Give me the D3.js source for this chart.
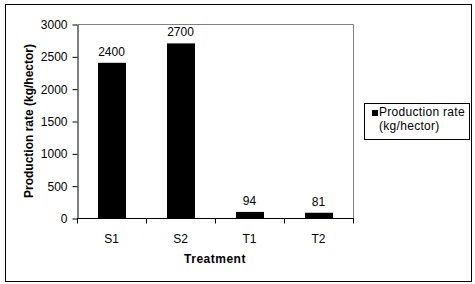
<!DOCTYPE html>
<html>
<head>
<meta charset="utf-8">
<script src="https://cdn.jsdelivr.net/npm/d3@7"></script>
<style>
  body { margin: 0; background: #fff; }
  text { font-family: Arial, "Liberation Sans", sans-serif; }
</style>
</head>
<body>
<svg id="chart"></svg>
<script>
// Chart data
var categories = ["S1", "S2", "T1", "T2"];
var values = [2400, 2700, 94, 81];
var yTicks = [0, 500, 1000, 1500, 2000, 2500, 3000];
var seriesName = ["Production rate", "(kg/hector)"];

var dimensions = {
    width: 475,
    height: 284,
    margin: { top: 24, bottom: 66, left: 77, right: 122 }
};

var svg = d3.select("#chart")
    .attr("width", dimensions.width)
    .attr("height", dimensions.height);

// Outer frame
svg.append("rect")
    .attr("x", 5.5).attr("y", 4.5)
    .attr("width", 466).attr("height", 277)
    .attr("fill", "#fff").attr("stroke", "#000");

var x0 = dimensions.margin.left, x1 = dimensions.width - dimensions.margin.right;
var y0 = dimensions.height - dimensions.margin.bottom, y1 = dimensions.margin.top;

var xScale = d3.scaleBand()
    .domain(categories)
    .range([x0, x1])
    .paddingInner(0.6)
    .paddingOuter(0.3);

var yScale = d3.scaleLinear()
    .domain([0, 3000])
    .range([y0, y1]);

// Plot area border (gray top and right)
svg.append("path")
    .attr("d", "M" + (x0 + 0.5) + "," + (y1 + 0.5) + "H" + (x1 + 0.5) + "V" + (y0 + 0.5))
    .attr("fill", "none")
    .attr("stroke", "#808080");

// Bars
svg.selectAll("rect.bar")
    .data(values)
    .enter()
    .append("rect")
    .attr("class", "bar")
    .attr("x", function(d, i) { return Math.round(xScale(categories[i])); })
    .attr("y", function(d) { return yScale(d); })
    .attr("width", Math.round(xScale.bandwidth()))
    .attr("height", function(d) { return y0 - yScale(d); })
    .attr("fill", "#000");

// Value labels
svg.selectAll("text.val")
    .data(values)
    .enter()
    .append("text")
    .attr("class", "val")
    .attr("x", function(d, i) { return xScale(categories[i]) + xScale.bandwidth() / 2; })
    .attr("y", function(d) { return yScale(d) - 7; })
    .attr("text-anchor", "middle")
    .style("font-size", "12px")
    .text(function(d) { return d; });

// Y axis
var yAxis = svg.append("g")
    .attr("transform", "translate(" + (x0 + 0.5) + ",0.5)")
    .call(d3.axisLeft(yScale).tickValues(yTicks).tickFormat(d3.format("d"))
        .tickSize(5).tickPadding(5).tickSizeOuter(0));
yAxis.select(".domain").attr("stroke", "#000");
yAxis.selectAll("text")
    .style("font-size", "12px")
    .style("font-family", "Arial, 'Liberation Sans', sans-serif")
    .attr("fill", "#000");

// X axis, ticks on category boundaries
var bounds = d3.range(categories.length + 1).map(function(i) { return x0 + i * (x1 - x0) / categories.length; });
var xAxis = svg.append("g")
    .attr("transform", "translate(0," + (y0 + 0.5) + ")");
xAxis.append("line")
    .attr("x1", x0).attr("x2", x1 + 1)
    .attr("stroke", "#000");
xAxis.selectAll("line.tick")
    .data(bounds)
    .enter()
    .append("line")
    .attr("class", "tick")
    .attr("x1", function(d) { return Math.round(d) + 0.5; })
    .attr("x2", function(d) { return Math.round(d) + 0.5; })
    .attr("y1", 0).attr("y2", 5)
    .attr("stroke", "#000");
xAxis.selectAll("text")
    .data(categories)
    .enter()
    .append("text")
    .attr("x", function(d) { return xScale(d) + xScale.bandwidth() / 2; })
    .attr("y", 24)
    .attr("text-anchor", "middle")
    .style("font-size", "12px")
    .text(function(d) { return d; });

// Axis titles
svg.append("text")
    .attr("x", (x0 + x1) / 2)
    .attr("y", 263)
    .attr("text-anchor", "middle")
    .style("font-size", "12px")
    .style("font-weight", "bold")
    .style("letter-spacing", "0.5px")
    .text("Treatment");

svg.append("text")
    .attr("transform", "rotate(-90)")
    .attr("x", -(y0 + y1) / 2)
    .attr("y", 33)
    .attr("text-anchor", "middle")
    .style("font-size", "12px")
    .style("font-weight", "bold")
    .text("Production rate (kg/hector)");

// Legend
var legend = svg.append("g");
legend.append("rect")
    .attr("x", 364.5).attr("y", 103.5)
    .attr("width", 105).attr("height", 36)
    .attr("fill", "#fff").attr("stroke", "#000");
legend.append("rect")
    .attr("x", 372).attr("y", 110)
    .attr("width", 6).attr("height", 6)
    .attr("fill", "#000");
legend.selectAll("text")
    .data(seriesName)
    .enter()
    .append("text")
    .attr("x", 379)
    .attr("y", function(d, i) { return 116 + i * 13.5; })
    .style("font-size", "12px")
    .style("letter-spacing", "0.3px")
    .text(function(d) { return d; });
</script>
</body>
</html>
